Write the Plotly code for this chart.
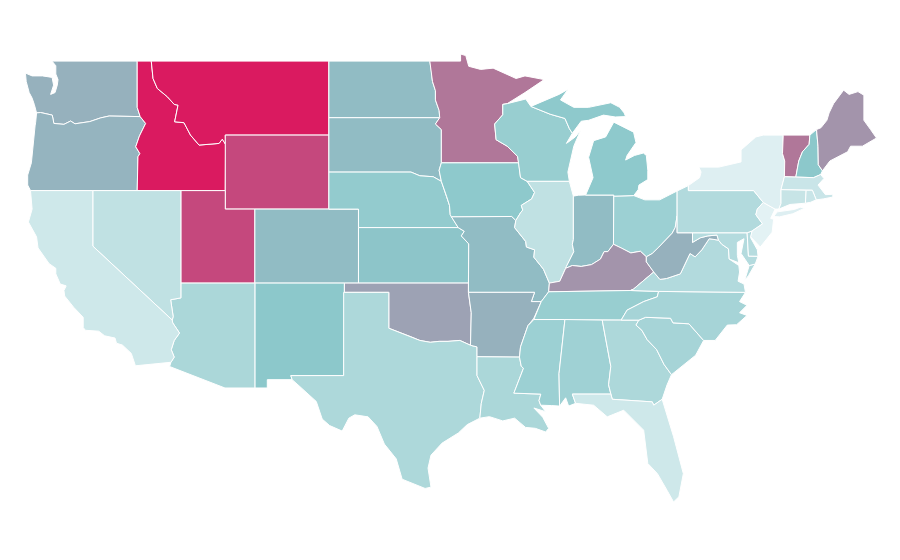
import plotly.graph_objects as go
from plotly.colors import sample_colorscale

# the map file of plotly (topojson) can't be loaded here, so the outlines are kept
# as lon/lat and drawn on plain axes (the reference is linear in lon and lat)
WA = [(-122.76,49),(-117.0,49),(-117.0,46.5),(-116.8,46),(-118.9,46.03),(-119.47,45.93),(-120.2,45.73),(-120.7,45.66),(-121.2,45.61),(-121.5,45.76),(-121.95,45.58),(-122.63,45.63),(-122.74,46.08),(-123.53,46.22),(-123.8,46.2),(-123.95,46.65),(-124.1,47),(-124.3,47.3),(-124.5,47.9),(-124.55,48.35),(-124.1,48.2),(-123.4,48.2),(-122.9,48.12),(-122.75,48.12),(-122.65,47.7),(-122.85,47.2),(-122.55,47.3),(-122.4,47.7),(-122.35,48),(-122.5,48.3),(-122.5,48.75)]
OR = [(-123.8,46.2),(-123.53,46.22),(-122.74,46.08),(-122.63,45.63),(-121.95,45.58),(-121.5,45.76),(-121.2,45.61),(-120.7,45.66),(-120.2,45.73),(-119.47,45.93),(-118.9,46.03),(-116.8,46),(-116.43,45.63),(-116.85,44.95),(-117.1,44.37),(-116.82,44),(-116.95,43.83),(-117,42),(-124.21,42),(-124.4,42.3),(-124.4,42.84),(-124.15,43.5),(-124.05,44.5),(-123.9,45.5),(-123.86,45.7)]
ID = [(-117,49),(-116.05,49),(-115.93,48.06),(-115.64,47.52),(-114.96,47.07),(-114.5,46.66),(-114.24,46.62),(-114.47,45.72),(-113.84,45.67),(-113.4,45),(-112.82,44.46),(-111.47,44.55),(-111.25,44.78),(-111.03,44.5),(-111.05,42),(-117,42),(-116.95,43.83),(-116.82,44),(-117.1,44.37),(-116.85,44.95),(-116.43,45.63),(-116.8,46),(-117,46.5)]
MT = [(-116.05,49),(-104.05,49),(-104.05,45),(-111.05,45),(-111.03,44.5),(-111.25,44.78),(-111.47,44.55),(-112.82,44.46),(-113.4,45),(-113.84,45.67),(-114.47,45.72),(-114.24,46.62),(-114.5,46.66),(-114.96,47.07),(-115.64,47.52),(-115.93,48.06)]
WY = [(-111.05,45),(-104.05,45),(-104.05,41),(-111.05,41)]
UT = [(-114.05,42),(-111.05,42),(-111.05,41),(-109.05,41),(-109.05,37),(-114.05,37)]
CO = [(-109.05,41),(-102.05,41),(-102.05,37),(-109.05,37)]
NM = [(-109.05,37),(-103,37),(-103.05,32),(-106.62,32),(-106.53,31.78),(-108.21,31.78),(-108.21,31.33),(-109.05,31.33)]
AZ = [(-114.05,37),(-109.05,37),(-109.05,31.33),(-111.07,31.33),(-114.81,32.49),(-114.72,32.72),(-114.5,33),(-114.7,33.4),(-114.5,33.9),(-114.14,34.3),(-114.6,34.85),(-114.63,35),(-114.57,35.2),(-114.74,36.1),(-114.05,36.2)]
NV = [(-120,42),(-114.05,42),(-114.05,36.2),(-114.74,36.1),(-114.57,35.2),(-114.63,35),(-120,39)]
CA = [(-124.21,42),(-120,42),(-120,39),(-114.63,35),(-114.6,34.85),(-114.14,34.3),(-114.5,33.9),(-114.7,33.4),(-114.5,33),(-114.72,32.72),(-117.12,32.53),(-117.25,32.85),(-117.4,33.2),(-118,33.65),(-118.4,33.75),(-118.5,34.03),(-119.2,34.15),(-119.6,34.4),(-120.5,34.45),(-120.65,34.6),(-120.65,35.15),(-121.3,35.7),(-121.9,36.3),(-121.95,36.6),(-121.8,36.85),(-122.2,36.95),(-122.5,37.5),(-122.5,37.8),(-122.95,38.05),(-123.7,38.9),(-123.8,39.5),(-124.35,40.3),(-124.1,41)]
ND = [(-104.05,49),(-97.23,49),(-97.13,48.5),(-97.05,47.9),(-96.85,47.4),(-96.85,46.9),(-96.6,46.33),(-96.56,45.94),(-104.05,45.94)]
SD = [(-104.05,45.94),(-96.56,45.94),(-96.85,45.6),(-96.45,45.3),(-96.45,43.5),(-96.6,43.1),(-96.45,42.5),(-97,42.75),(-97.9,42.8),(-98.5,43),(-104.05,43)]
NE = [(-104.05,43),(-98.5,43),(-97.9,42.8),(-97,42.75),(-96.45,42.5),(-96.1,41.7),(-95.9,41.2),(-95.85,40.7),(-95.31,40),(-102.05,40),(-102.05,41),(-104.05,41)]
KS = [(-102.05,40),(-95.31,40),(-94.9,39.8),(-95.1,39.55),(-94.6,39.12),(-94.62,37),(-102.05,37)]
OK = [(-103,37),(-94.62,37),(-94.62,36.5),(-94.43,35.4),(-94.48,33.64),(-95.2,33.9),(-96,33.85),(-96.6,33.85),(-97.2,33.8),(-97.9,33.9),(-98.5,34.1),(-99.2,34.3),(-100,34.56),(-100,36.5),(-103,36.5)]
TX = [(-103.05,36.5),(-100,36.5),(-100,34.56),(-99.2,34.3),(-98.5,34.1),(-97.9,33.9),(-97.2,33.8),(-96.6,33.85),(-96,33.85),(-95.2,33.9),(-94.48,33.64),(-94.04,33.55),(-94.04,32),(-93.55,31.2),(-93.75,30.5),(-93.85,29.7),(-94.7,29.35),(-95.3,28.9),(-96.4,28.35),(-97.15,27.7),(-97.35,27),(-97.15,25.97),(-97.55,25.9),(-98.2,26.1),(-99.1,26.4),(-99.5,27.5),(-100.3,28.3),(-100.8,29.25),(-101.4,29.77),(-102.3,29.88),(-102.7,29.7),(-103.15,29),(-104,29.3),(-104.5,29.65),(-104.9,30.6),(-106,31.4),(-106.53,31.78),(-106.62,32),(-103.05,32)]
MN = [(-97.23,49),(-95.15,49),(-95.15,49.38),(-94.8,49.3),(-94.6,48.72),(-93.8,48.55),(-92.95,48.62),(-92,48.3),(-91.4,48.06),(-90.8,48.2),(-89.5,48),(-90.8,47.3),(-92,46.7),(-92.3,46.66),(-92.3,46.1),(-92.85,45.6),(-92.75,44.75),(-92,44.4),(-91.3,43.85),(-91.22,43.5),(-96.45,43.5),(-96.45,45.3),(-96.85,45.6),(-96.56,45.94),(-96.6,46.33),(-96.85,46.9),(-96.85,47.4),(-97.05,47.9),(-97.13,48.5)]
IA = [(-96.45,43.5),(-91.22,43.5),(-91.1,42.7),(-90.65,42.5),(-90.15,41.9),(-90.35,41.55),(-91.05,41.2),(-90.95,40.95),(-91.1,40.8),(-91.42,40.38),(-91.7,40.6),(-95.77,40.58),(-95.85,40.7),(-95.9,41.2),(-96.1,41.7),(-96.45,42.5),(-96.6,43.1)]
MO = [(-95.77,40.58),(-91.7,40.6),(-91.42,40.38),(-91.5,40),(-90.75,39.25),(-90.7,38.95),(-90.15,38.8),(-90.2,38.4),(-89.55,37.75),(-89.15,37),(-89.2,36.53),(-89.7,36),(-90.37,36),(-90.15,36.5),(-94.62,36.5),(-94.62,37),(-94.6,39.12),(-95.1,39.55),(-94.9,39.8),(-95.31,40)]
AR = [(-94.62,36.5),(-90.15,36.5),(-90.37,36),(-89.7,36),(-90.2,35.1),(-90.6,34.7),(-91.1,33.55),(-91.17,33),(-94.04,33.02),(-94.04,33.55),(-94.48,33.64),(-94.43,35.4)]
LA = [(-94.04,33.02),(-91.17,33),(-91.05,32.5),(-90.9,32.4),(-91.55,31.05),(-89.73,31),(-89.85,30.65),(-89.74,30.4),(-89.4,30.05),(-90.2,30.25),(-89.6,29.75),(-89.2,29.15),(-89.4,28.95),(-90.1,29.15),(-90.76,29.2),(-91.5,29.7),(-92.3,29.55),(-93.2,29.78),(-93.85,29.7),(-93.75,30.5),(-93.55,31.2),(-94.04,32)]
WI = [(-92,46.7),(-91.2,46.85),(-90.75,46.95),(-90.4,46.55),(-89.1,46.13),(-88.1,45.9),(-87.8,45.35),(-87.6,45.1),(-88,44.55),(-87.4,44.9),(-87.05,45.25),(-87.5,44.4),(-87.75,43.6),(-87.9,43),(-87.8,42.5),(-90.65,42.5),(-91.1,42.7),(-91.22,43.5),(-91.3,43.85),(-92,44.4),(-92.75,44.75),(-92.85,45.6),(-92.3,46.1),(-92.3,46.66)]
IL = [(-90.65,42.5),(-87.8,42.5),(-87.53,41.7),(-87.53,39.35),(-87.6,39.1),(-87.5,38.7),(-88,37.9),(-88.05,37.8),(-88.45,37.1),(-89.15,37),(-89.55,37.75),(-90.2,38.4),(-90.15,38.8),(-90.7,38.95),(-90.75,39.25),(-91.5,40),(-91.42,40.38),(-91.1,40.8),(-90.95,40.95),(-91.05,41.2),(-90.35,41.55),(-90.15,41.9)]
IN = [(-87.53,41.7),(-87.2,41.75),(-86.8,41.76),(-84.8,41.76),(-84.82,39.1),(-85.2,38.7),(-85.45,38.7),(-85.7,38.3),(-86.3,38),(-87,37.9),(-87.6,37.95),(-88.05,37.8),(-88,37.9),(-87.5,38.7),(-87.6,39.1),(-87.53,39.35)]
OH = [(-84.8,41.7),(-83.45,41.73),(-82.7,41.5),(-81.7,41.5),(-80.52,41.98),(-80.52,40.64),(-80.65,40),(-80.85,39.7),(-81.75,38.95),(-82.2,38.6),(-82.6,38.42),(-83,38.72),(-83.65,38.63),(-84.3,38.9),(-84.82,39.1)]
MI = [(-86.7,41.76),(-84.8,41.76),(-84.8,41.7),(-83.45,41.73),(-83.15,42.05),(-83.1,42.3),(-82.5,42.6),(-82.5,43.1),(-82.6,43.9),(-82.8,44.03),(-83.4,43.9),(-84,43.65),(-83.9,43.9),(-83.3,44.6),(-83.46,45.16),(-84.8,45.7),(-85.35,44.9),(-86.16,44.7),(-86.5,43.8),(-86.2,42.7)]
MI_UP = [(-90.4,46.55),(-89.1,47),(-88.5,47.2),(-87.9,47.47),(-88.4,46.9),(-87.5,46.5),(-86.5,46.5),(-85,46.75),(-84.4,46.5),(-84.1,46.2),(-84,46),(-84.7,45.98),(-85.5,46.08),(-86.5,45.8),(-87,45.75),(-87.6,45.1),(-87.8,45.35),(-88.1,45.9),(-89.1,46.13)]
KY = [(-89.15,37),(-88.45,37.1),(-88.05,37.8),(-87.6,37.95),(-87,37.9),(-86.3,38),(-85.7,38.3),(-85.45,38.7),(-85.2,38.7),(-84.82,39.1),(-84.3,38.9),(-83.65,38.63),(-83,38.72),(-82.6,38.42),(-82.6,38.15),(-82.1,37.6),(-83.46,36.68),(-83.68,36.6),(-89.2,36.53)]
TN = [(-89.7,36),(-89.2,36.53),(-83.68,36.6),(-81.77,36.55),(-81.86,36.26),(-82.78,36),(-83.9,35.54),(-84.3,35),(-90.2,35.03)]
MS = [(-90.2,35.03),(-88.1,35.03),(-88.5,32.1),(-88.46,30.35),(-89,30.38),(-89.74,30.4),(-89.85,30.65),(-89.73,31),(-91.55,31.05),(-90.9,32.4),(-91.05,32.5),(-91.17,33),(-91.1,33.55),(-90.6,34.7)]
AL = [(-88.1,35.03),(-85.58,35),(-85,32.5),(-85.15,31.5),(-85,31),(-87.6,31),(-87.38,30.5),(-87.85,30.35),(-88.05,30.8),(-88.46,30.35),(-88.5,32.1)]
GA = [(-85.58,35),(-83.1,35),(-83.3,34.73),(-82.9,34.45),(-82.55,33.95),(-81.9,33.4),(-81.4,32.6),(-80.9,32.05),(-81.2,31.5),(-81.53,30.72),(-82.1,30.4),(-82.2,30.58),(-84.9,30.72),(-85,31),(-85.15,31.5),(-85,32.5)]
FL = [(-87.6,31),(-85,31),(-84.9,30.72),(-82.2,30.58),(-82.1,30.4),(-81.53,30.72),(-80.76,28.7),(-80.1,26.7),(-80.4,25.45),(-80.76,25.17),(-81.2,25.8),(-81.85,26.7),(-82.5,27.25),(-82.65,28.15),(-82.78,29.05),(-84.13,30.13),(-85.24,29.77),(-86.16,30.4),(-87.38,30.5)]
SC = [(-83.1,35),(-82.65,35.15),(-80.96,35.1),(-80.8,34.85),(-79.72,34.8),(-78.73,33.9),(-79.27,33.1),(-79.9,32.7),(-80.9,32.05),(-81.4,32.6),(-81.9,33.4),(-82.55,33.95),(-82.9,34.45),(-83.3,34.73)]
NC = [(-84.3,35),(-83.1,35),(-82.65,35.15),(-80.96,35.1),(-80.8,34.85),(-79.72,34.8),(-78.73,33.9),(-77.95,33.9),(-77.13,34.73),(-76.5,34.75),(-75.8,35.25),(-76.3,35.4),(-75.8,35.8),(-76.3,36),(-75.9,36.5),(-81.77,36.55),(-81.86,36.26),(-82.78,36),(-83.9,35.54)]
VA = [(-83.46,36.68),(-83.68,36.6),(-81.77,36.55),(-75.9,36.5),(-76,36.95),(-76.4,37.1),(-76.3,37.6),(-76.35,37.95),(-77,38.3),(-77.05,38.85),(-77.5,39.1),(-77.72,39.32),(-78.35,39.4),(-78.85,38.8),(-79.3,38.42),(-79.65,38.6),(-80.3,37.5),(-81.23,37.25),(-81.68,37.2),(-82.1,37.6)]
VA_SHORE = [(-75.24,38.03),(-75.65,37.95),(-75.95,37.15),(-75.7,37.4)]
WV = [(-82.6,38.42),(-82.2,38.6),(-81.75,38.95),(-80.85,39.7),(-80.65,40),(-80.52,40.64),(-80.52,39.72),(-79.48,39.72),(-79.48,39.2),(-78.95,39.45),(-78.45,39.55),(-77.83,39.6),(-77.72,39.32),(-78.35,39.4),(-78.85,38.8),(-79.3,38.42),(-79.65,38.6),(-80.3,37.5),(-81.23,37.25),(-81.68,37.2),(-82.1,37.6),(-82.6,38.15)]
MD = [(-79.48,39.72),(-75.79,39.72),(-75.7,38.46),(-75.05,38.45),(-75.24,38.03),(-75.65,37.95),(-75.9,38.25),(-76.2,38.6),(-76,39.4),(-76.45,39.2),(-76.45,38.5),(-76.35,38.1),(-77,38.3),(-77.05,38.85),(-77.5,39.1),(-77.72,39.32),(-77.83,39.6),(-78.45,39.55),(-78.95,39.45),(-79.48,39.2)]
DE = [(-75.79,39.72),(-75.45,39.82),(-75.55,39.45),(-75.1,38.8),(-75.05,38.45),(-75.7,38.46)]
PA = [(-80.52,41.98),(-79.76,42.27),(-79.76,42),(-75.35,42),(-74.7,41.36),(-75.1,41),(-75.2,40.7),(-74.75,40.2),(-75.45,39.82),(-75.79,39.72),(-80.52,39.72)]
NJ = [(-74.7,41.36),(-73.9,41),(-74.2,40.5),(-74,40.45),(-74.1,39.75),(-74.9,38.95),(-75.55,39.5),(-75.45,39.82),(-74.75,40.2),(-75.2,40.7),(-75.1,41)]
NY = [(-79.76,42.27),(-79,42.7),(-78.9,43),(-79.05,43.27),(-77.7,43.27),(-76.2,43.55),(-76.2,44.2),(-75.2,44.9),(-74.7,45),(-73.35,45),(-73.4,44),(-73.25,43.6),(-73.27,42.75),(-73.5,42.05),(-73.5,41.3),(-73.65,41),(-73.9,41),(-74.7,41.36),(-75.35,42),(-79.76,42)]
NY_LI = [(-74,40.6),(-73.75,40.85),(-72.6,40.98),(-72.2,41.1),(-71.9,41.05),(-72.7,40.75),(-73.6,40.58)]
VT = [(-73.35,45),(-71.55,45),(-71.6,44.5),(-72.05,44.1),(-72.3,43.6),(-72.5,42.73),(-73.27,42.75),(-73.25,43.6),(-73.4,44)]
NH = [(-71.55,45),(-71.1,45.3),(-71,44.4),(-70.98,43.4),(-70.7,43.07),(-70.82,42.87),(-71.3,42.7),(-72.5,42.73),(-72.3,43.6),(-72.05,44.1),(-71.6,44.5)]
ME = [(-71.1,45.3),(-70.8,45.4),(-70.4,45.8),(-70.25,46.2),(-69.95,46.7),(-69.27,47.43),(-68.9,47.2),(-68.3,47.35),(-67.9,47.16),(-67.9,45.8),(-67.45,45.3),(-67.05,44.84),(-68,44.4),(-68.8,44.4),(-69,44.1),(-69.8,43.75),(-70.2,43.6),(-70.7,43.07),(-70.98,43.4),(-71,44.4)]
MA = [(-73.5,42.05),(-73.27,42.75),(-72.5,42.73),(-71.3,42.7),(-70.82,42.87),(-70.6,42.65),(-71,42.3),(-70.65,41.95),(-70.5,41.78),(-70,41.8),(-70,41.65),(-70.65,41.55),(-71.12,41.5),(-71.38,42.02),(-71.8,42.02)]
CT = [(-73.5,42.05),(-71.8,42.02),(-71.85,41.32),(-72.9,41.25),(-73.65,41),(-73.5,41.3)]
RI = [(-71.8,42.02),(-71.38,42.02),(-71.12,41.5),(-71.5,41.37),(-71.85,41.32)]

state_names = ['WA','OR','ID','MT','WY','UT','CO','NM','AZ','NV','CA','ND','SD','NE','KS','OK','TX','MN','IA','MO','AR','LA','WI','IL','IN','OH','MI','KY','TN','MS','AL','GA','FL','SC','NC','VA','WV','MD','DE','PA','NJ','NY','VT','NH','ME','MA','CT','RI']
state_values = [48,47,100,100,84,84,44,40,27,18,12,44,44,37,41,53,26,68,39,44,48,27,35,18,44,33,39,58,35,33,32,26,12,29,29,24,48,23,22,24,3,5,68,40,58,14,15,14]
state_shapes = [[WA],[OR],[ID],[MT],[WY],[UT],[CO],[NM],[AZ],[NV],[CA],[ND],[SD],[NE],[KS],[OK],[TX],[MN],[IA],[MO],[AR],[LA],[WI],[IL],[IN],[OH],[MI,MI_UP],[KY],[TN],[MS],[AL],[GA],[FL],[SC],[NC],[VA,VA_SHORE],[WV],[MD],[DE],[PA],[NJ],[NY,NY_LI],[VT],[NH],[ME],[MA],[CT],[RI]]

color_scale = [[0, '#eaf5f7'], [0.4, '#8cc8cb'], [1, '#da1a60']]


def rings_to_xy(rings):
    lons, lats = [], []
    for ring in rings:
        lons += [p[0] for p in ring] + [ring[0][0], None]
        lats += [p[1] for p in ring] + [ring[0][1], None]
    return lons, lats


fig = go.Figure()
for name, value, rings in zip(state_names, state_values, state_shapes):
    lons, lats = rings_to_xy(rings)
    fig.add_trace(go.Scatter(
        x=lons, y=lats, name=name, mode='lines', fill='toself',
        fillcolor=sample_colorscale(color_scale, value / 100, colortype='rgb')[0],
        line=dict(color='white', width=1),
        showlegend=False,
    ))

# ranges are moved a little because the page has its own body margin
fig.update_xaxes(visible=False, range=[-125.73, -64.92], fixedrange=True)
fig.update_yaxes(visible=False, range=[21.60, 51.87], fixedrange=True)
fig.update_layout(width=900, height=560, margin=dict(l=0, r=0, t=0, b=0),
                  paper_bgcolor='white', plot_bgcolor='white')
fig.write_html("out.html")
